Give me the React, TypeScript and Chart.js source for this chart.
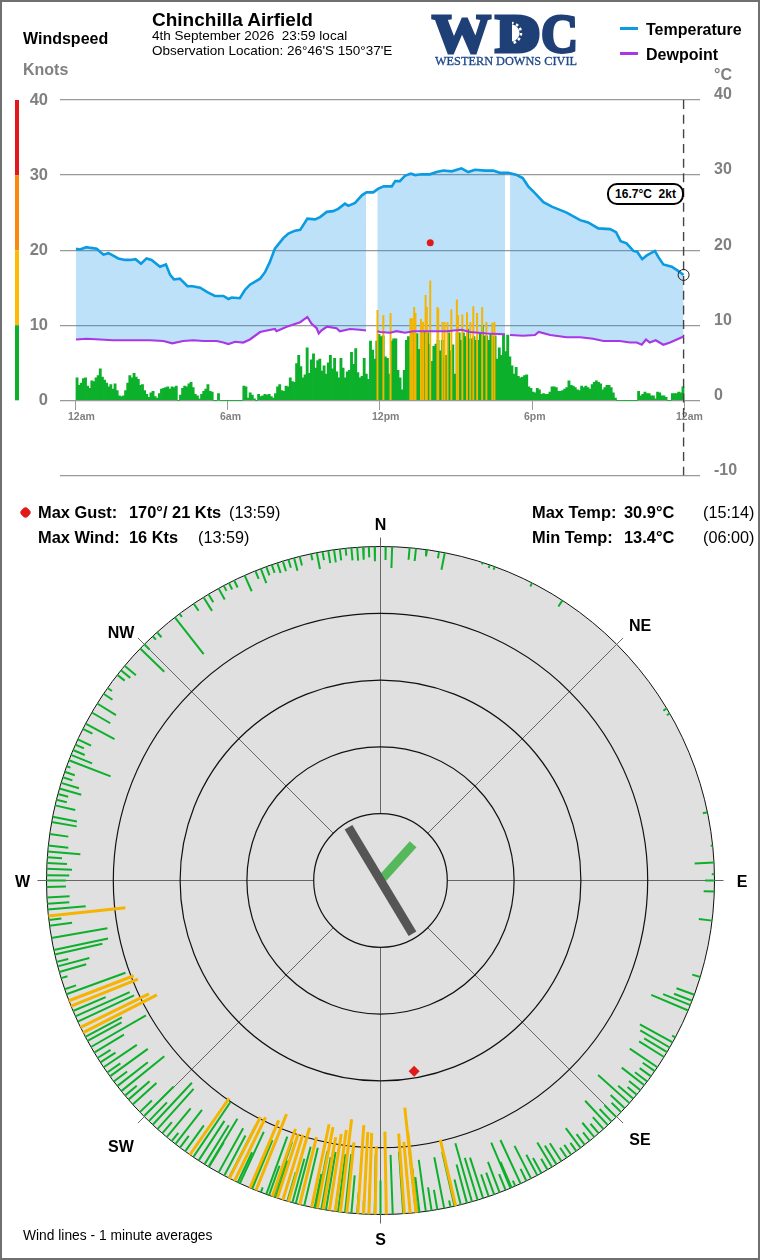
import React, { useEffect, useRef } from "react";
import Chart from "chart.js/auto";

const FONT = '"Liberation Sans", Arial, sans-serif';

// ---------- top chart values ----------
const xTickValues = [0, 360, 720, 1080, 1440];
const xTickLabels = ["12am", "6am", "12pm", "6pm", "12am"];
const leftTickValues = [-10, 0, 10, 20, 30, 40];
const rightTickValues = [-10, 0, 10, 20, 30, 40];
const windBands: [number, number, string][] = [
  [40, 30, "#e4181c"],
  [30, 20, "#f98a0c"],
  [20, 10, "#fdbb06"],
  [10, 0, "#0db02b"],
];

// [minute of day, °C]
const temperature: [number, number][] = [
  [0, 20.2], [9, 20.1], [25, 20.4], [35, 20.3], [49, 20.2], [55, 19.9], [65, 19.4], [77, 19.6], [87, 19.3], [100, 18.9],
  [116, 18.7], [128, 18.7], [141, 18.8], [154, 18.2], [167, 18.9], [179, 18.7], [199, 17.8], [213, 18.1], [223, 16.7], [232, 16.1],
  [246, 16.2], [264, 15.2], [276, 15.2], [294, 15.0], [311, 14.4], [329, 13.9], [349, 13.9], [361, 13.5], [369, 13.7], [388, 13.6],
  [400, 14.7], [412, 15.4], [436, 16.2], [448, 17.1], [459, 18.4], [471, 20.2], [491, 21.6], [503, 22.2], [519, 22.6], [531, 22.7],
  [548, 24.2], [566, 24.1], [578, 24.4], [594, 25.1], [609, 25.2], [621, 25.5], [637, 26.2], [645, 25.9], [661, 26.3], [677, 27.3],
  [688, 27.7], [704, 27.7], [716, 28.2], [729, 28.5], [748, 28.5], [756, 29.2], [767, 29.2], [779, 29.9], [793, 30.2], [803, 30.0],
  [819, 30.1], [838, 30.1], [854, 30.4], [870, 30.6], [890, 30.5], [913, 30.9], [929, 30.4], [945, 30.7], [969, 30.6], [988, 30.6],
  [1004, 30.3], [1024, 30.3], [1044, 30.0], [1058, 29.6], [1071, 28.5], [1087, 27.6], [1107, 26.4], [1127, 25.8], [1162, 25.0], [1194, 24.0],
  [1213, 23.7], [1237, 22.9], [1265, 22.8], [1279, 22.4], [1290, 21.2], [1304, 20.9], [1320, 19.9], [1329, 19.8], [1341, 18.8], [1352, 19.3],
  [1371, 19.9], [1379, 19.1], [1391, 18.1], [1411, 17.8], [1427, 17.2], [1439, 16.7],
];

// [minute of day, °C]; null marks the missing readings
const dewpoint: [number, number | null][] = [
  [0, 8.1], [25, 8.2], [57, 8.1], [88, 8.0], [120, 8.0], [152, 8.0], [175, 8.0], [207, 7.9], [228, 7.6], [254, 7.9],
  [278, 8.0], [302, 7.9], [333, 7.9], [349, 7.7], [361, 7.5], [377, 7.8], [396, 7.7], [412, 8.1], [436, 9.1], [452, 9.3],
  [471, 9.5], [475, 9.2], [499, 9.8], [515, 10.1], [531, 10.4], [548, 11.1], [558, 10.2], [570, 9.6], [575, 8.9], [581, 9.3],
  [594, 9.8], [617, 9.6], [625, 9.2], [649, 9.5], [672, 9.4], [687, 9.3], [700, null], [714, 9.2], [720, 9.1], [744, 9.0],
  [759, 9.2], [779, 9.0], [799, 9.2], [838, 9.2], [878, 9.2], [913, 9.4], [933, 9.1], [973, 8.9], [1016, 8.8], [1022, null],
  [1028, 8.7], [1059, 8.6], [1087, 8.7], [1096, 9.1], [1123, 8.7], [1162, 8.4], [1194, 8.4], [1225, 8.2], [1249, 7.9], [1288, 7.9],
  [1312, 7.7], [1328, 7.7], [1340, 7.4], [1350, 8.1], [1359, 7.7], [1373, 8.0], [1391, 7.4], [1407, 7.7], [1423, 8.1], [1439, 8.5],
];

const windStepMinutes = 5;
// one row per hour, 12 readings per row (knots)
const windAm = [
  3.0, 2.0, 2.3, 2.9, 3.0, 1.9, 1.6, 2.6, 2.5, 3.0, 3.3, 4.2,
  3.1, 2.7, 2.3, 1.8, 2.1, 1.5, 2.2, 1.3, 0.6, 0.5, 0.6, 1.3,
  2.3, 3.3, 3.0, 3.6, 3.1, 2.8, 2.0, 2.1, 1.3, 0.8, 0.4, 1.0,
  1.2, 0.5, 0.3, 0.9, 1.5, 1.6, 1.7, 1.8, 1.5, 1.8, 1.7, 1.9,
  0, 0.7, 1.6, 1.9, 1.8, 2.2, 2.4, 1.7, 0.8, 0.6, 0.2, 0.8,
  1.2, 1.5, 2.1, 1.2, 1.1, 0, 0, 0.9, 0, 0, 0, 0,
  0, 0, 0, 0, 0, 0, 0, 1.9, 1.8, 0.3, 1.0, 0.7,
  0.2, 0, 0.8, 0.5, 0.6, 0.8, 0.7, 0.8, 0.5, 0.3, 0.9, 1.8,
  2.1, 1.3, 1.2, 1.9, 1.8, 3.0, 2.5, 2.4, 4.9, 6.0, 4.5, 3.0,
  3.4, 7.0, 3.6, 5.4, 6.2, 4.3, 5.3, 5.5, 3.9, 4.6, 3.5, 5.0,
  6.0, 4.2, 5.6, 3.8, 3.0, 5.6, 4.3, 3.0, 3.8, 4.0, 6.4, 4.8,
  6.9, 3.7, 3.0, 3.2, 5.6, 3.5, 2.8, 7.9, 6.7, 5.5, 7.9, 8.8,
];
const windPm = [
  8.5, 8.6, 5.8, 5.6, 3.5, 7.9, 8.2, 8.2, 4.0, 3.0, 1.4, 4.0,
  8.0, 8.5, 5.8, 9.0, 8.0, 8.9, 6.8, 9.0, 7.0, 9.2, 9.0, 7.5,
  5.2, 7.2, 7.5, 8.0, 6.6, 8.0, 5.7, 6.0, 9.0, 6.6, 7.4, 3.5,
  9.0, 9.0, 8.0, 9.0, 8.5, 9.5, 8.2, 8.2, 8.5, 8.0, 8.0, 9.0,
  10.0, 8.6, 8.6, 8.0, 8.8, 8.5, 8.6, 5.5, 7.0, 6.0, 8.8, 6.5,
  8.7, 5.8, 4.6, 3.5, 4.4, 3.2, 3.0, 3.1, 3.3, 3.4, 1.8, 1.6,
  1.1, 1.0, 1.6, 1.4, 0.8, 0.9, 0.8, 0.8, 1.1, 1.8, 1.8, 1.7,
  1.2, 1.2, 1.3, 1.5, 1.7, 2.6, 2.0, 1.9, 1.7, 1.4, 1.3, 1.9,
  1.7, 1.9, 1.7, 1.5, 2.1, 2.4, 2.6, 2.4, 2.2, 1.4, 1.7, 2.0,
  2.0, 1.7, 1.0, 0.3, 0, 0, 0, 0, 0, 0, 0, 0,
  0, 0, 1.2, 0.6, 0.8, 1.1, 0.9, 0.9, 0.6, 0.6, 0.2, 1.1,
  1.0, 0.6, 0.6, 0.4, 0, 0, 0.9, 0.9, 0.9, 1.1, 1.0, 1.8,
];
// [minute of day, knots]
const windStrong: [number, number][] = [
  [714, 12.0], [728, 11.3], [745, 11.6], [792, 10.9], [796, 10.9], [801, 12.4], [804, 11.6], [817, 10.8], [822, 10.4], [828, 14.0],
  [831, 12.4], [839, 15.9], [856, 12.4], [858, 12.2], [868, 10.4], [873, 10.4], [880, 10.4], [889, 12.1], [902, 13.4], [905, 11.3],
  [915, 11.4], [926, 11.7], [934, 10.4], [941, 12.5], [950, 11.6], [962, 12.4], [972, 10.4], [986, 10.3], [991, 10.4],
];
const nowMinute = 1439;
const nowTemp = 16.7;
const gustMinute = 839;
const gustKnots = 21;
const gustBearing = 170;

// ---------- wind rose values: [bearing°, knots] ----------
const roseGreen: [number, number][] = [
  [0.9, 2], [2, 3.2], [5, 1.8], [6.1, 1.9], [8, 1], [10.1, 1], [11.1, 2.6], [17.8, 0.3], [19.1, 0.5], [20, 0.5],
  [27, 0.6], [33, 1.1], [59, 0.6], [60, 0.5], [78.2, 0.7], [84, 0.3], [86.9, 2.9], [88.9, 0.4], [90, 1.4], [91.9, 1.6], [96.9, 2],
  [106.8, 1.25], [110, 2.85], [111.1, 2.9], [111.9, 4.4], [112.9, 6], [118, 0.55], [119, 5.6], [120, 5.1], [120.9, 4], [121.9, 4.4],
  [124, 5], [124.8, 2.2], [125.9, 2.1], [127, 2.3], [127.8, 4.3], [128.9, 2.2], [129.9, 1.8], [130.8, 3], [131.8, 6.3], [133, 2.9],
  [133.9, 2], [135.1, 2.5], [136.2, 2.6], [137.1, 5], [138.1, 2.4], [139.2, 1.9], [140.2, 2.8], [141.2, 1.6], [142.3, 2], [143.2, 3.7],
  [144.1, 1.5], [145.2, 1.8], [146.1, 1.8], [147.2, 3.2], [148.2, 3.3], [149.1, 4.3], [150, 1.9], [151.2, 2.6], [152, 3.5], [153.2, 5.5],
  [154.1, 2], [155.2, 7.2], [156.2, 0.9], [156.9, 4.2], [157.1, 7.4], [158, 2.6], [159.1, 4.9], [160.1, 3.5], [161.1, 3.5], [162.1, 6.4],
  [163.1, 6.6], [164.1, 9.1], [165, 6], [166.1, 3.9], [167.2, 8.3], [167.9, 1], [169, 7.8], [170.2, 3], [171.2, 3.5], [172.2, 7.8],
  [173.3, 5.3], [173.7, 6.6], [173.9, 9.9], [176.1, 9.3], [177.9, 8.9], [180, 5.1], [181, 9], [182, 4.5], [183, 2], [184, 3.2],
  [185, 5.7], [186.1, 8.8], [187.3, 8.7], [187.8, 6], [189.4, 8.8], [190.2, 7.9], [191.1, 8.7], [191.4, 5.2], [193.2, 8.9], [194.7, 8.8],
  [195.3, 6.8], [196.2, 4.5], [198.3, 5.8], [198.7, 8.7], [199.5, 4.7], [200, 9.2], [201, 0.8], [202.6, 7.9], [202.9, 5], [204.9, 8.5],
  [205.3, 5], [207, 8.8], [207.9, 6.8], [209, 7.6], [210.9, 4.3], [211, 8.4], [211.8, 6.9], [213, 7.1], [214.1, 9.9], [215.8, 4.8],
  [216.9, 2.2], [217.9, 6.5], [218.7, 1.6], [219.8, 5.6], [220.8, 2.2], [221.9, 8.1], [223, 8.6], [223.9, 3.9], [225.1, 6.3], [226.1, 2.5],
  [227.9, 4.8], [229, 4.2], [229.9, 2.3], [230.9, 8.3], [232, 5.8], [233, 2.5], [234.1, 7], [234.9, 2.4], [236, 6], [237, 2.7],
  [237.9, 2.3], [239, 5.2], [240.1, 9.5], [241.3, 5.8], [242.1, 6.2], [245, 9.3], [246, 8.9], [247, 5.3], [250.1, 9.4], [251, 1.8],
  [253, 1], [254.1, 4.2], [255.1, 4.9], [255.9, 1.8], [257.2, 7.3], [258, 8.3], [260.1, 8.5], [262.2, 3.4], [263.2, 1.9], [265, 5.7],
  [266, 3.3], [267.1, 3.4], [268.9, 2.9], [270, 2.9], [270.9, 3.4], [272, 3.8], [273, 3], [274, 2.2], [275, 4.9], [276, 3],
  [278, 2.8], [280.1, 3.8], [281, 3.7], [283, 3.1], [284, 1.6], [285, 1.6], [286, 3.4], [287, 2.8], [288, 1.5], [289, 1.6],
  [290, 0.6], [291.1, 6.7], [292.1, 3.4], [293, 1.9], [294, 1.4], [295, 2.2], [297, 1.6], [298, 4.9], [300.2, 3.2], [302, 3.3],
  [304, 1.6], [305.2, 0.8], [308, 1.4], [309, 1.8], [310, 2.2], [314, 5], [315, 1.1], [317, 0.7], [318, 1], [322, 7],
  [323, 0.6], [326, 1.3], [328, 2.4], [329, 1.4], [331, 1.9], [332, 0.9], [333, 1.1], [334, 1.2], [336, 2.6], [338, 1.3],
  [339, 2.3], [340, 1.4], [341, 1.3], [342, 1.6], [343, 1.6], [344, 1.3], [345, 2], [346, 1.4], [348, 1], [349, 2.5],
  [350, 1.3], [351, 1.9], [352, 1.9], [353, 1.7], [354, 1.1], [355, 1.9], [356, 2], [357, 1.9], [358, 1.6], [359, 2.2],
];
const roseStrong: [number, number][] = [
  [167, 10.2], [173.8, 12], [173.9, 15.8], [174.9, 10.7], [175.9, 12], [179, 12.4], [180.9, 10.2], [182, 12.2], [182.9, 12.3], [183.9, 13.3],
  [185.8, 10.6], [186.9, 14], [187.8, 12.3], [188.8, 11.6], [189.9, 11], [190.9, 12.4], [191.9, 12.7], [194, 10.4], [196, 11.5], [197, 10.2],
  [198, 10.1], [198.9, 10.7], [201.9, 12.3], [203, 11], [205.9, 10.6], [206.9, 10.3], [214.8, 10.3], [242.9, 12.4], [243.9, 11.4], [247.9, 10.8],
  [248.9, 10.4], [263.9, 11.6],
];
const roseRimKnots = 50;
const roseRingKnots = [10, 20, 30, 40];
const roseSpokeBearings = [0, 45, 90, 135, 180, 225, 270, 315];
const gustNeedle = { bearing: 149, reach: 9.3 };
const windNeedle = { bearing: 42, reach: 7.3 };

// ---------- helpers ----------
const polar = (bearing: number, radius: number) => {
  const a = (bearing * Math.PI) / 180;
  return { x: radius * Math.sin(a), y: radius * Math.cos(a) };
};
const spokes = (rows: [number, number][]) => {
  const out: { x: number; y: number | null }[] = [];
  rows.forEach(([b, k]) => {
    out.push(polar(b, roseRimKnots));
    out.push(polar(b, roseRimKnots - k));
    out.push({ x: 0, y: null });
  });
  return out;
};
const pts = (rows: [number, number | null][]) => rows.map(([x, y]) => ({ x, y }));

const Label = ({ x, y, size = 16, bold = false, color = "#000", align = "left", spacing = 0, children }: any) => (
  <span
    style={{
      position: "absolute",
      left: x,
      top: y,
      transform: `translate(${align === "center" ? "-50%" : "0"}, -50%)`,
      fontFamily: FONT,
      fontSize: size,
      fontWeight: bold ? 700 : 400,
      color,
      letterSpacing: spacing,
      lineHeight: 1,
      whiteSpace: "pre",
      zIndex: 3,
    }}
  >
    {children}
  </span>
);

const stripePlugin = {
  id: "stripe",
  afterDraw(chart: any) {
    const { ctx, scales } = chart;
    windBands.forEach(([from, to, color]) => {
      const y0 = scales.yKnots.getPixelForValue(from);
      const y1 = scales.yKnots.getPixelForValue(to);
      ctx.fillStyle = color;
      ctx.fillRect(15, y0, 4, y1 - y0);
    });
  },
};

const rosePlugin = {
  id: "roseGrid",
  beforeDatasetsDraw(chart: any) {
    const { ctx, scales } = chart;
    const cx = scales.x.getPixelForValue(0);
    const cy = scales.y.getPixelForValue(0);
    const unit = scales.x.getPixelForValue(1) - cx;
    ctx.save();
    ctx.beginPath();
    ctx.arc(cx, cy, roseRimKnots * unit, 0, Math.PI * 2);
    ctx.fillStyle = "#e0e0e0";
    ctx.fill();
    ctx.lineWidth = 1;
    ctx.strokeStyle = "#111";
    ctx.stroke();
    ctx.strokeStyle = "#666";
    ctx.lineWidth = 1;
    roseSpokeBearings.forEach((b) => {
      const a = polar(b, roseRingKnots[0]);
      const e = polar(b, roseRimKnots + 1.35);
      ctx.beginPath();
      ctx.moveTo(scales.x.getPixelForValue(a.x), scales.y.getPixelForValue(a.y));
      ctx.lineTo(scales.x.getPixelForValue(e.x), scales.y.getPixelForValue(e.y));
      ctx.stroke();
    });
    ctx.strokeStyle = "#111";
    ctx.lineWidth = 1.2;
    roseRingKnots.forEach((k) => {
      ctx.beginPath();
      ctx.arc(cx, cy, k * unit, 0, Math.PI * 2);
      ctx.stroke();
    });
    ctx.restore();
  },
};

export default function App() {
  const topRef = useRef<HTMLCanvasElement>(null);
  const roseRef = useRef<HTMLCanvasElement>(null);

  useEffect(() => {
    const axisFont = { family: FONT, weight: "bold" as const };
    const wind = [...windAm, ...windPm];
    const top = new Chart(topRef.current!, {
      type: "line",
      data: {
        datasets: [
          {
            label: "Temperature",
            data: pts(temperature),
            yAxisID: "yKnots",
            borderColor: "#0a9be2",
            borderWidth: 2.6,
            pointRadius: 0,
            tension: 0,
            fill: { target: 1, above: "rgba(12,145,228,0.27)", below: "rgba(12,145,228,0.27)" },
            order: 5,
          },
          {
            label: "Dewpoint",
            data: pts(dewpoint),
            yAxisID: "yKnots",
            borderColor: "#a937e6",
            borderWidth: 2.2,
            pointRadius: 0,
            tension: 0,
            spanGaps: false,
            order: 1,
          },
          {
            type: "bar",
            label: "Wind",
            data: wind.map((y, i) => ({ x: i * windStepMinutes + windStepMinutes / 2, y })),
            yAxisID: "yKnots",
            backgroundColor: "#0db02b",
            barThickness: 2.2,
            grouped: false,
            borderWidth: 0,
            order: 4,
          },
          {
            type: "bar",
            label: "Wind over 10kt",
            data: pts(windStrong),
            yAxisID: "yKnots",
            backgroundColor: "#f5b400",
            barThickness: 1.3,
            grouped: false,
            borderWidth: 0,
            order: 3,
          },
          {
            label: "Now",
            data: [{ x: nowMinute, y: 40 }, { x: nowMinute, y: -10 }],
            yAxisID: "yKnots",
            borderColor: "#444",
            borderWidth: 1.4,
            borderDash: [9, 5.67],
            pointRadius: 0,
            order: 2,
          },
          {
            label: "Current",
            data: [{ x: nowMinute, y: nowTemp }],
            yAxisID: "yKnots",
            showLine: false,
            pointRadius: 5.5,
            pointBackgroundColor: "rgba(0,0,0,0)",
            pointBorderColor: "#222",
            pointBorderWidth: 1,
            order: 0,
          },
          {
            label: "Max gust",
            data: [{ x: gustMinute, y: gustKnots }],
            yAxisID: "yKnots",
            showLine: false,
            pointRadius: 3.5,
            pointBackgroundColor: "#e01a1a",
            pointBorderWidth: 0,
            order: 0,
          },
          { label: "Temperature axis", data: [], yAxisID: "yTemp" },
        ] as any,
      },
      options: {
        responsive: false,
        animation: false,
        events: [],
        layout: { autoPadding: false, padding: { top: 100, bottom: 15, left: 0, right: 0 } },
        plugins: { legend: { display: false }, tooltip: { enabled: false } },
        scales: {
          x: {
            type: "linear",
            position: { yKnots: 0 } as any,
            axis: "x",
            min: -37.89,
            max: 1477.89,
            offset: false,
            border: { display: false },
            grid: { offset: false, drawOnChartArea: false, drawTicks: true, tickLength: 10, color: "#999", lineWidth: 1 },
            afterBuildTicks: (s: any) => { s.ticks = xTickValues.map((value) => ({ value })); },
            ticks: {
              autoSkip: false,
              maxRotation: 0,
              align: "start",
              labelOffset: -8,
              padding: 0,
              color: "#808080",
              font: { ...axisFont, size: 10.5 },
              callback: (_v: any, i: number) => xTickLabels[i],
            },
          },
          yKnots: {
            type: "linear",
            position: "left",
            axis: "y",
            min: -10,
            max: 40,
            border: { display: false },
            grid: { color: "#999", lineWidth: 1.3, drawTicks: false },
            afterFit: (s: any) => { s.width = 60; },
            afterBuildTicks: (s: any) => { s.ticks = leftTickValues.map((value) => ({ value })); },
            ticks: {
              padding: 12,
              color: "#808080",
              font: { ...axisFont, size: 16.5 },
              callback: (v: any) => (v < 0 ? "" : String(v)),
            },
          },
          yTemp: {
            type: "linear",
            position: "right",
            axis: "y",
            min: -10,
            max: 40,
            border: { display: false },
            grid: { drawOnChartArea: false, drawTicks: false },
            afterFit: (s: any) => { s.width = 60; },
            afterBuildTicks: (s: any) => { s.ticks = rightTickValues.map((value) => ({ value })); },
            ticks: {
              padding: 14,
              labelOffset: -5,
              color: "#808080",
              font: { ...axisFont, size: 16 },
              callback: (v: any) => String(v),
            },
          },
        },
      } as any,
      plugins: [stripePlugin],
    });

    const gustPoint = polar(gustBearing, roseRimKnots - gustKnots);
    const unit = 6.68;
    const rose = new Chart(roseRef.current!, {
      type: "line",
      data: {
        datasets: [
          { label: "Wind", data: spokes(roseGreen), borderColor: "#0db02b", borderWidth: 2, pointRadius: 0, spanGaps: false, order: 4 },
          { label: "Wind over 10kt", data: spokes(roseStrong), borderColor: "#f5b400", borderWidth: 3, pointRadius: 0, spanGaps: false, order: 3 },
          {
            label: "Wind now",
            data: [{ x: 0, y: 0 }, polar(windNeedle.bearing, windNeedle.reach)],
            borderColor: "#55b85a",
            borderWidth: 9,
            pointRadius: 0,
            order: 2,
          },
          {
            label: "Direction now",
            data: [polar(gustNeedle.bearing + 180, gustNeedle.reach), polar(gustNeedle.bearing, gustNeedle.reach)],
            borderColor: "#555555",
            borderWidth: 9,
            pointRadius: 0,
            order: 1,
          },
          {
            label: "Max gust",
            data: [gustPoint],
            showLine: false,
            pointStyle: "rectRot",
            pointRadius: 5.5,
            pointBackgroundColor: "#e01a1a",
            pointBorderWidth: 0,
            order: 0,
          },
        ] as any,
      },
      options: {
        responsive: false,
        animation: false,
        events: [],
        layout: { autoPadding: false, padding: 0 },
        plugins: { legend: { display: false }, tooltip: { enabled: false } },
        scales: {
          x: { type: "linear", display: false, min: -380.5 / unit, max: 379.5 / unit },
          y: { type: "linear", display: false, min: -359.5 / unit, max: 360.5 / unit },
        },
      } as any,
      plugins: [rosePlugin],
    });
    return () => {
      top.destroy();
      rose.destroy();
    };
  }, []);

  const navy = "#1f3f77";
  const logoLetter = (letter: string, x: number, length: number) => (
    <text x={x} y={43.5} fontFamily="Liberation Serif" fontWeight={700} fontSize={55} textLength={length} lengthAdjust="spacingAndGlyphs" fill={navy} stroke={navy} strokeWidth={3}>{letter}</text>
  );

  return (
    <div style={{ position: "absolute", left: 0, top: 0, width: 760, height: 1260, overflow: "hidden", background: "#fff" }}>
      <canvas ref={topRef} width={760} height={499} style={{ position: "absolute", left: 0, top: 0 }} />
      <canvas ref={roseRef} width={760} height={720} style={{ position: "absolute", left: 0, top: 520 }} />
      <div style={{ position: "absolute", inset: 0, border: "2px solid #707070", boxSizing: "border-box", zIndex: 4, pointerEvents: "none" }} />

      <Label x={23} y={38.5} bold>Windspeed</Label>
      <Label x={23} y={70} bold color="#808080">Knots</Label>
      <Label x={152} y={19} size={19} bold>Chinchilla Airfield</Label>
      <Label x={152} y={36} size={13.5}>{"4th September 2026  23:59 local"}</Label>
      <Label x={152} y={51} size={13.5}>{"Observation Location: 26°46'S 150°37'E"}</Label>

      <svg width={160} height={64} style={{ position: "absolute", left: 426, top: 8, zIndex: 3 }}>
        <defs>
          <clipPath id="gearClip"><rect x={86} y={0} width={30} height={60} /></clipPath>
        </defs>
        {logoLetter("W", 6, 59)}
        {logoLetter("D", 69, 46)}
        {logoLetter("C", 115, 37)}
        <rect x={82} y={12} width={22} height={28} fill={navy} />
        <g clipPath="url(#gearClip)">
          <circle cx={85} cy={25} r={8.5} fill="#fff" />
          <circle cx={85} cy={25} r={10} fill="none" stroke="#fff" strokeWidth={2.5} strokeDasharray="2.6 2.6" />
        </g>
        <text x={9} y={57} fontFamily="Liberation Serif" fontSize={13.5} textLength={142} lengthAdjust="spacingAndGlyphs" fill="#1f4a8a" stroke="#1f4a8a" strokeWidth={0.35}>WESTERN DOWNS CIVIL</text>
      </svg>

      <div style={{ position: "absolute", left: 620, top: 27, width: 18, height: 3, background: "#0a9be2", zIndex: 3 }} />
      <Label x={646} y={29.5} bold>Temperature</Label>
      <div style={{ position: "absolute", left: 620, top: 51.5, width: 18, height: 3, background: "#a937e6", zIndex: 3 }} />
      <Label x={646} y={54.5} bold>Dewpoint</Label>
      <Label x={714} y={75} bold color="#808080">°C</Label>

      <div style={{ position: "absolute", left: 607, top: 183, width: 77, height: 22, boxSizing: "border-box", border: "2px solid #000", borderRadius: 10, background: "#fff", zIndex: 3, display: "flex", alignItems: "center", justifyContent: "center", fontFamily: FONT, fontSize: 12, fontWeight: 700, whiteSpace: "pre" }}>
        {"16.7°C  2kt"}
      </div>

      <div style={{ position: "absolute", left: 21, top: 508, width: 9, height: 9, borderRadius: "35%", transform: "rotate(45deg)", background: "#e01a1a", zIndex: 3 }} />
      <Label x={38} y={511.5} size={16.4} bold>Max Gust:</Label>
      <Label x={129} y={511.5} size={16.4} bold>{"170°/ 21 Kts"}</Label>
      <Label x={229} y={511.5} size={16.2}>(13:59)</Label>
      <Label x={38} y={536.5} size={16.4} bold>Max Wind:</Label>
      <Label x={129} y={536.5} size={16.4} bold>16 Kts</Label>
      <Label x={198} y={536.5} size={16.2}>(13:59)</Label>
      <Label x={532} y={511.5} size={16.4} bold>Max Temp:</Label>
      <Label x={624} y={511.5} size={16.4} bold>30.9°C</Label>
      <Label x={703} y={511.5} size={16.2}>(15:14)</Label>
      <Label x={532} y={536.5} size={16.4} bold>Min Temp:</Label>
      <Label x={624} y={536.5} size={16.4} bold>13.4°C</Label>
      <Label x={703} y={536.5} size={16.2}>(06:00)</Label>

      <Label x={380.5} y={525} bold align="center">N</Label>
      <Label x={380.5} y={1239.5} bold align="center">S</Label>
      <Label x={742} y={882} bold align="center">E</Label>
      <Label x={22.5} y={882} bold align="center">W</Label>
      <Label x={121} y={633} bold align="center">NW</Label>
      <Label x={640} y={625.5} bold align="center">NE</Label>
      <Label x={121} y={1147} bold align="center">SW</Label>
      <Label x={640} y={1140} bold align="center">SE</Label>
      <Label x={23} y={1236} size={13.8}>Wind lines - 1 minute averages</Label>
    </div>
  );
}
